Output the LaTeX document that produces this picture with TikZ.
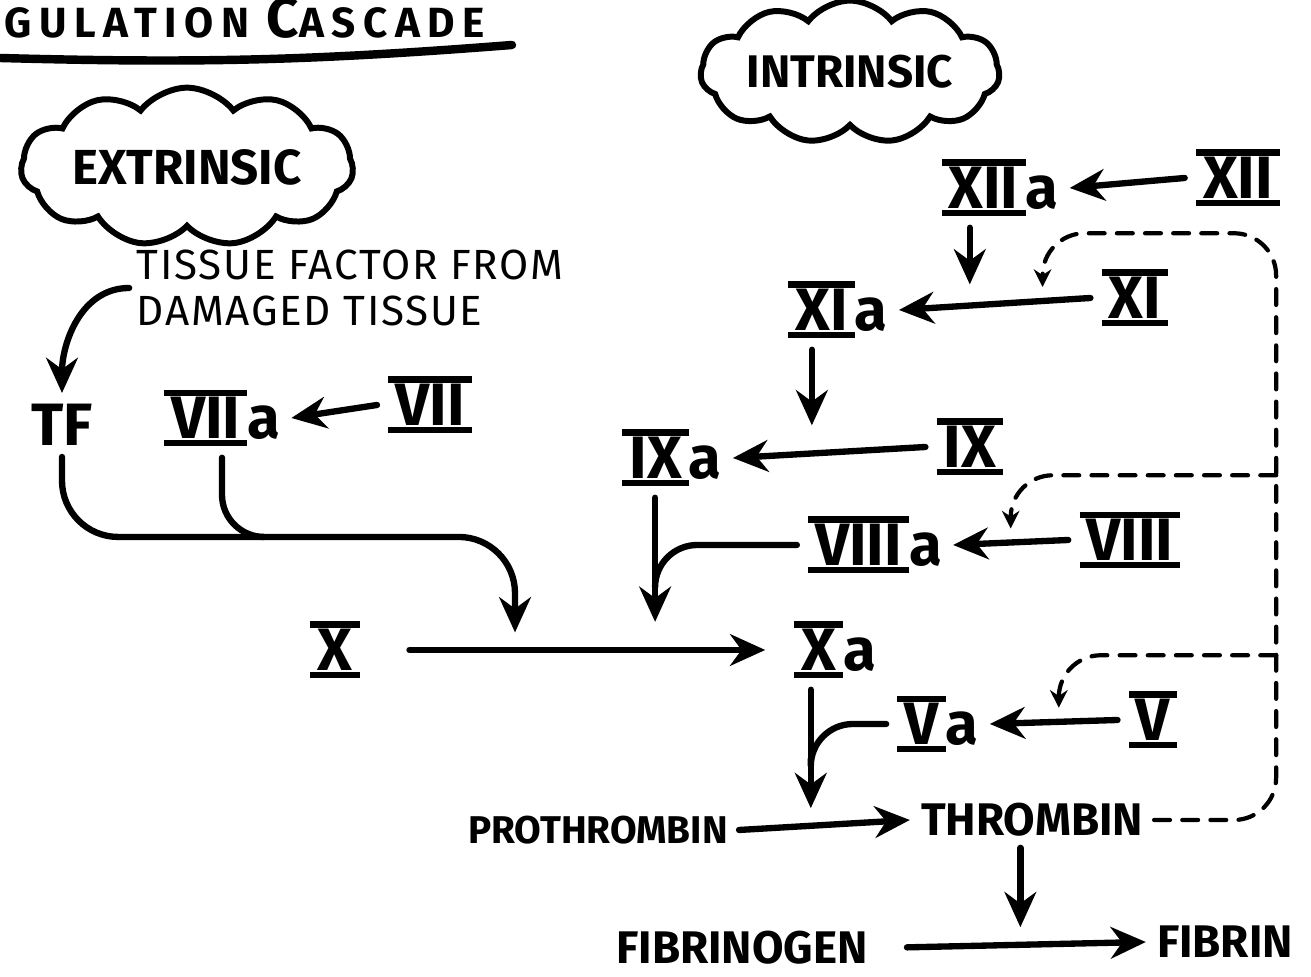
\documentclass[tikz,border=0pt]{standalone}
\usepackage{fontspec}
\setmainfont{Fira Sans}
\usetikzlibrary{arrows.meta,shapes.symbols,calc,positioning}

% roman numeral with the hand-drawn bars above and below
\newcommand{\barred}[1]{%
  \setbox0=\hbox{#1}%
  \leavevmode
  \rlap{\rule[-0.13em]{\dimexpr\wd0+0.24em\relax}{0.11em}}%
  \rlap{\rule[\dimexpr\ht0+0.02em\relax]{\dimexpr\wd0+0.24em\relax}{0.11em}}%
  \kern0.12em\box0\kern0.12em}

\tikzset{
  factor/.style={font=\fontsize{17}{20}\selectfont\bfseries, inner sep=3pt},
  caps/.style={font=\fontsize{13}{15}\selectfont\bfseries, inner sep=3pt},
  note/.style={font=\fontsize{12}{13}\selectfont\addfontfeatures{LetterSpace=4}, align=left, inner sep=2pt},
  blob/.style={cloud, cloud puffs=11, cloud puff arc=105, draw, line width=1.7pt,
    aspect=2.8, inner sep=0.5pt, font=\fontsize{14}{16}\selectfont\bfseries},
  conv/.style={line width=1.8pt, -{Stealth[length=10pt,width=9pt]}},
  joinline/.style={line width=1.8pt, rounded corners=12pt},
  feedback/.style={line width=1.2pt, dash pattern=on 4.5pt off 3.5pt,
    rounded corners=12pt, -{Stealth[length=5pt,width=5pt]}}
}

\begin{document}
\begin{tikzpicture}[x=0.01cm, y=-0.01cm, line cap=round]
  \useasboundingbox (0,0) rectangle (1311,977);

  % title and the two pathways
  \node[anchor=base west, inner sep=0pt,
    font=\fontsize{12}{14}\selectfont\bfseries\addfontfeatures{LetterSpace=18}] (title) at (4,38)
    {GULATION {\fontsize{16}{18}\selectfont C}ASCADE};
  \draw[line width=2.4pt] (0,58) to[bend right=3] (512,45);
  \node[blob] (ext) at (187,167) {EXTRINSIC};
  \node[blob, font=\fontsize{13}{15}\selectfont\bfseries] (int) at (850,72) {INTRINSIC};

  % factors
  \node[factor] (xii) at (1238,178) {\barred{XII}};
  \node[factor] (xiia) at (1000,188) {\barred{XII}a};
  \node[factor] (xi) at (1135,298) {\barred{XI}};
  \node[factor] (xia) at (838,310) {\barred{XI}a};
  \node[factor] (ix) at (970,447) {\barred{IX}};
  \node[factor] (ixa) at (672,458) {\barred{IX}a};
  \node[factor] (viii) at (1130,540) {\barred{VIII}};
  \node[factor] (viiia) at (875,545) {\barred{VIII}a};
  \node[factor] (fx) at (335,650) {\barred{X}};
  \node[factor] (xa) at (835,650) {\barred{X}a};
  \node[factor] (v) at (1153,720) {\barred{V}};
  \node[factor] (va) at (938,724) {\barred{V}a};
  \node[factor] (vii) at (430,405) {\barred{VII}};
  \node[factor] (viia) at (222,418) {\barred{VII}a};
  \node[caps, font=\fontsize{17}{20}\selectfont\bfseries] (tf) at (62,425) {TF};
  \node[note] (tissue) at (350,288) {TISSUE FACTOR FROM\\DAMAGED TISSUE};
  \node[caps, font=\fontsize{11}{13}\selectfont\bfseries] (pro) at (598,830) {PROTHROMBIN};
  \node[caps] (thr) at (1032,820) {THROMBIN};
  \node[caps] (fgen) at (742,948) {FIBRINOGEN};
  \node[caps] (fib) at (1225,942) {FIBRIN};

  % points where the side arrows meet the main ones
  \coordinate (m1) at ($(xi.west)!0.63!(xia.east)$);
  \coordinate (m2) at ($(ix.west)!0.59!(ixa.east)$);
  \coordinate (m3) at ($(xi.west)!0.25!(xia.east)$);
  \coordinate (m4) at ($(viii.west)!0.5!(viiia.east)$);
  \coordinate (m5) at ($(v.west)!0.46!(va.east)$);
  \coordinate (j1) at ($(fx.east)!0.35!(xa.west)$);
  \coordinate (j2) at ($(fx.east)!0.69!(xa.west)$);
  \coordinate (j3) at ($(pro.east)!0.42!(thr.west)$);
  \coordinate (j4) at ($(fgen.east)!0.53!(fib.west)$);

  % conversions
  \draw[conv] (xii.west) -- (xiia.east);
  \draw[conv] (xi.west) -- (xia.east);
  \draw[conv] (ix.west) -- (ixa.east);
  \draw[conv] (viii.west) -- (viiia.east);
  \draw[conv] (v.west) -- (va.east);
  \draw[conv] (vii.west) -- (viia.east);
  \draw[conv, shorten <=11pt, shorten >=5pt] (fx.east) -- (xa.west);
  \draw[conv] (pro.east) -- (thr.west);
  \draw[conv, shorten <=8pt] (fgen.east) -- (fib.west);

  % activations
  \draw[conv, shorten >=6pt] (m1 |- xiia.south) -- (m1);
  \draw[conv, shorten >=8pt] (m2 |- xia.south) -- (m2);
  \draw[conv, shorten >=5pt] (j4 |- thr.south) -- (j4);
  \draw[conv] (tissue.west) to[out=180, in=90] (tf.north);
  \draw[conv, rounded corners=16pt, shorten >=5pt] (tf.south) -- ++(0,80) coordinate (ext) -| (j1);
  \draw[joinline] (viia.south) -- (viia.south |- ext) -- ++(40,0);
  \draw[conv, shorten >=8pt] (j2 |- ixa.south) -- (j2);
  \draw[joinline] (viiia.west) -- (j2 |- viiia.west) -- ++(0,40);
  \draw[conv, shorten >=5pt] (j3 |- xa.south) -- (j3);
  \draw[joinline] (va.west) -- (j3 |- va.west) -- ++(0,35);

  % thrombin feedback
  \coordinate (rail) at ($(thr.east)+(122,0)$);
  \coordinate (b11) at ($(xi.north)+(0,-25)$);
  \coordinate (b8) at ($(viii.north)+(0,-25)$);
  \coordinate (b5) at ($(v.north)+(0,-25)$);
  \draw[feedback, shorten >=4pt] (thr.east) -- (rail) -- (rail |- b11) -- (m3 |- b11) -- (m3);
  \draw[feedback, shorten >=4pt] (rail |- b8) -- (m4 |- b8) -- (m4);
  \draw[feedback, shorten >=4pt] (rail |- b5) -- (m5 |- b5) -- (m5);
\end{tikzpicture}
\end{document}
